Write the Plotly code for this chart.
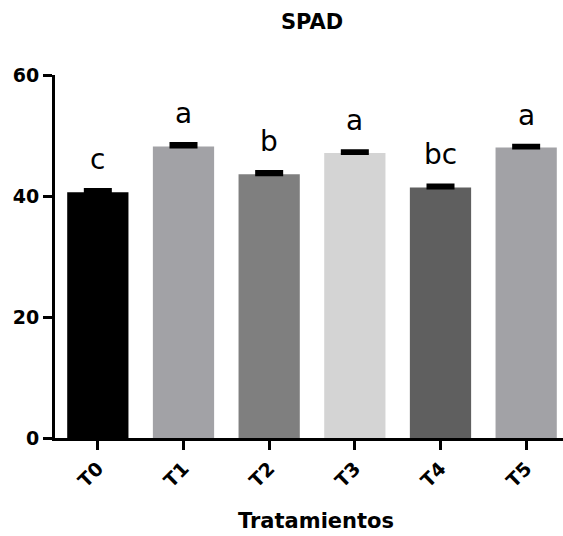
import plotly.graph_objects as go

categories = ["T0", "T1", "T2", "T3", "T4", "T5"]
means = [40.6, 48.2, 43.6, 47.1, 41.4, 48.0]
sems = [0.4, 0.4, 0.35, 0.3, 0.35, 0.3]
letters = ["c", "a", "b", "a", "bc", "a"]
colors = ["#000000", "#a2a2a6", "#7f7f7f", "#d4d4d4", "#5f5f5f", "#a2a2a6"]
yticks = [0, 20, 40, 60]

FONT = "DejaVu Sans"

fig = go.Figure()
fig.add_trace(go.Bar(
    x=categories, y=means,
    marker=dict(color=colors, line=dict(width=0)),
    width=0.715,
    error_y=dict(type="data", symmetric=False, array=sems,
                 arrayminus=[0] * len(sems), visible=True, color="black",
                 thickness=4, width=14),
    showlegend=False,
))

for c, m, s, l in zip(categories, means, sems, letters):
    fig.add_annotation(x=c, y=m + s, text=l, showarrow=False,
                       yanchor="bottom", yshift=12,
                       font=dict(family=FONT, size=28, color="black"))

fig.add_annotation(xref="paper", yref="paper", x=0.506, y=1 + 53 / 363,
                   text="<b>SPAD</b>", showarrow=False, yanchor="middle",
                   font=dict(family=FONT, size=21, color="black"))
fig.add_annotation(xref="paper", yref="paper", x=0.514, y=-(521 - 438) / 363,
                   text="<b>Tratamientos</b>", showarrow=False, yanchor="middle",
                   font=dict(family=FONT, size=21, color="black"))

fig.update_layout(
    width=563, height=536,
    margin=dict(l=55, r=0, t=75, b=98),
    plot_bgcolor="white", paper_bgcolor="white",
    bargap=0.285,
)
fig.update_xaxes(
    range=[-0.5, 5.43], showline=True, linecolor="black", linewidth=3,
    ticks="outside", ticklen=9, tickwidth=3, tickcolor="black",
    tickangle=-45, tickfont=dict(family=FONT, size=19, color="black", weight="bold"),
    showgrid=False, zeroline=False,
)
fig.update_yaxes(
    range=[0, 60], tickvals=yticks, showline=True, linecolor="black", linewidth=3,
    ticks="outside", ticklen=9, tickwidth=3, tickcolor="black",
    tickfont=dict(family=FONT, size=19, color="black", weight="bold"),
    showgrid=False, zeroline=False,
)

fig.write_html("out.html")
